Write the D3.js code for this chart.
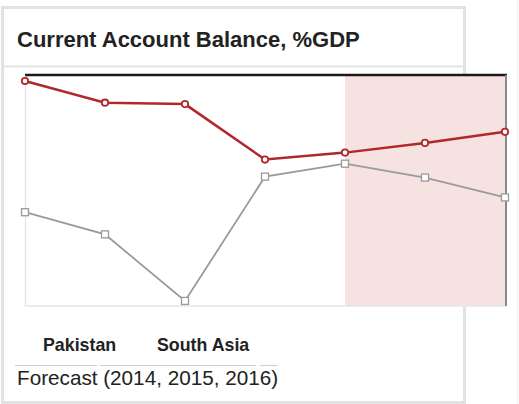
<!DOCTYPE html>
<html><head><meta charset="utf-8">
<script src="https://cdn.jsdelivr.net/npm/d3@7"></script>
<style>html,body{margin:0;padding:0;background:#fff;}svg{display:block;}</style>
</head><body>
<svg id="chart" width="519" height="404"></svg>
<script>
const years = [2010, 2011, 2012, 2013, 2014, 2015, 2016];
const forecastYears = [2014, 2015, 2016];
const pakistan = [0.37, -0.10, -0.13, -1.33, -1.18, -0.97, -0.73];
const southAsia = [-2.47, -2.95, -4.39, -1.70, -1.42, -1.72, -2.15];
const seriesNames = ["Pakistan", "South Asia"];
const titleText = "Current Account Balance, %GDP";
const yDomain = [-4.5, 0.5];

const svg = d3.select("#chart");
const font = "'Liberation Sans', Arial, sans-serif";

// panel
svg.append("rect").attr("x", 2.5).attr("y", 7.5).attr("width", 462).attr("height", 395)
  .attr("fill", "#fff").attr("stroke", "#e2e2e2").attr("stroke-width", 3);
svg.append("line").attr("x1", 3).attr("x2", 465).attr("y1", 66.5).attr("y2", 66.5)
  .attr("stroke", "#e4e4e4").attr("stroke-width", 2);
svg.append("line").attr("x1", 517.5).attr("x2", 517.5).attr("y1", 0).attr("y2", 404)
  .attr("stroke", "#f0f0f0").attr("stroke-width", 1);

svg.append("text").attr("x", 17).attr("y", 47).text(titleText)
  .attr("font-family", font).attr("font-weight", "bold").attr("font-size", 22).attr("fill", "#222");

const x = d3.scalePoint().domain(years).range([25, 505]);
const y = d3.scaleLinear().domain(yDomain).range([306, 75]);

// forecast shading
const fx0 = x(forecastYears[0]);
svg.append("rect").attr("x", fx0).attr("y", y(yDomain[1])).attr("width", 507 - fx0)
  .attr("height", y(yDomain[0]) - y(yDomain[1])).attr("fill", "#f7e2e2");

// axes frame
const yAxis = d3.axisLeft(y).tickValues([]).tickSize(0);
svg.append("g").attr("transform", "translate(25,0)").call(yAxis)
  .select(".domain").attr("stroke", "#e6e6e6").attr("stroke-width", 1.5);
const xAxis = d3.axisBottom(x).tickValues([]).tickSize(0);
svg.append("g").attr("transform", "translate(0,306)").call(xAxis)
  .select(".domain").attr("stroke", "#e6e6e6").attr("stroke-width", 1.5)
  .attr("d", `M25,0H507`);
svg.append("line").attr("x1", 25).attr("x2", 507).attr("y1", y(yDomain[1])).attr("y2", y(yDomain[1]))
  .attr("stroke", "#1a1a1a").attr("stroke-width", 2.5);
svg.append("line").attr("x1", 506).attr("x2", 506).attr("y1", y(yDomain[1])).attr("y2", 306)
  .attr("stroke", "#8a8a8a").attr("stroke-width", 2);

const line = d3.line().x((d, i) => x(years[i])).y(d => y(d));

// South Asia
svg.append("path").datum(southAsia).attr("d", line).attr("fill", "none")
  .attr("stroke", "#9a9a9a").attr("stroke-width", 1.8);
svg.selectAll(".sq").data(southAsia).enter().append("rect")
  .attr("x", (d, i) => x(years[i]) - 3.5).attr("y", d => y(d) - 3.5)
  .attr("width", 7).attr("height", 7).attr("fill", "#fff").attr("stroke", "#9a9a9a").attr("stroke-width", 1.3);

// Pakistan
svg.append("path").datum(pakistan).attr("d", line).attr("fill", "none")
  .attr("stroke", "#b0282c").attr("stroke-width", 2.5);
svg.selectAll(".ci").data(pakistan).enter().append("circle")
  .attr("cx", (d, i) => x(years[i])).attr("cy", d => y(d)).attr("r", 3.2)
  .attr("fill", "#fff").attr("stroke", "#b0282c").attr("stroke-width", 1.8);

// legend
const legX = [43, 157];
svg.selectAll(".leg").data(seriesNames).enter().append("text")
  .attr("x", (d, i) => legX[i]).attr("y", 351).text(d => d)
  .attr("font-family", font).attr("font-weight", "bold").attr("font-size", 17.8).attr("fill", "#222");

[[15, 97], [100, 256], [260, 277]].forEach(s => {
  svg.append("line").attr("x1", s[0]).attr("x2", s[1]).attr("y1", 365.5).attr("y2", 365.5)
    .attr("stroke", "#cfcfcf").attr("stroke-width", 1.2);
});
svg.append("text").attr("x", 17).attr("y", 385)
  .text("Forecast (" + forecastYears.join(", ") + ")")
  .attr("font-family", font).attr("font-size", 20.7).attr("fill", "#222");
</script>
</body></html>
